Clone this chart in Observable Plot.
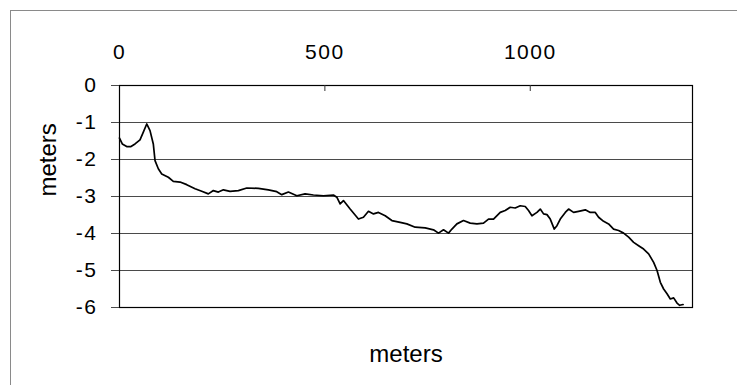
<!DOCTYPE html>
<html>
<head>
<meta charset="utf-8">
<script src="https://cdn.jsdelivr.net/npm/d3@7"></script>
<script src="https://cdn.jsdelivr.net/npm/@observablehq/plot@0.6"></script>
<style>
  html, body { margin: 0; padding: 0; background: white; }
  #wrap { position: relative; width: 737px; height: 385px; overflow: hidden; }
  #border { position: absolute; left: 10px; top: 10px; width: 800px; height: 400px;
            border-left: 1px solid #8a8a8a; border-top: 1px solid #8a8a8a; pointer-events: none; }
  g[aria-label="x-axis tick label"] text,
  g[aria-label="y-axis tick label"] text { letter-spacing: 1.5px; }
</style>
</head>
<body>
<div id="wrap"><div id="border"></div></div>
<script>
// distance along the profile (meters)
const distance = [
  0, 6.8, 17.5, 28, 37.8, 49.9, 58, 66.3, 74.3, 82.3, 86.5, 94.5, 102.8, 118.9, 131, 147.4,
  163.7, 183.9, 200.2, 216.3, 228.5, 240.7, 252.9, 269.2, 289.4, 309.9, 338.1, 362.5, 382.9,
  395.1, 411.2, 431.7, 451.9, 472.1, 496.5, 520.8, 529.1, 537.1, 545.2, 561.5, 581.7, 593.9,
  606.1, 618.3, 630.5, 646.8, 663.1, 683.3, 699.6, 719.9, 744.2, 764.4, 776.6, 788.8, 801,
  809.3, 821.4, 837.5, 853.8, 870.2, 886.2, 898.4, 910.6, 926.9, 939, 951.2, 963.4, 975.6,
  987.8, 995.8, 1004.1, 1016.3, 1024.4, 1032.4, 1040.7, 1048.7, 1058.5, 1065, 1073.1, 1085.3,
  1093.3, 1105.5, 1117.7, 1134, 1146.2, 1158.3, 1166.4, 1178.6, 1190.7, 1202.9, 1215.1,
  1227.3, 1239.5, 1251.7, 1263.8, 1276, 1288.2, 1300.4, 1308.7, 1316.7, 1324.7, 1333, 1341,
  1349.1, 1357.3, 1363.7, 1372
];
// elevation (meters)
const elevation = [
  -1.42, -1.58, -1.65, -1.65, -1.58, -1.47, -1.26, -1.04, -1.22, -1.58, -2.03, -2.25, -2.39, -2.48, -2.59, -2.61,
  -2.68, -2.79, -2.86, -2.93, -2.84, -2.88, -2.82, -2.86, -2.84, -2.77, -2.78, -2.82, -2.87,
  -2.95, -2.88, -2.98, -2.93, -2.96, -2.98, -2.96, -3.02, -3.20, -3.11, -3.34, -3.61, -3.56,
  -3.40, -3.47, -3.43, -3.52, -3.65, -3.70, -3.74, -3.83, -3.85, -3.90, -3.99, -3.90, -3.99,
  -3.88, -3.74, -3.65, -3.72, -3.74, -3.72, -3.61, -3.61, -3.43, -3.38, -3.29, -3.31, -3.25,
  -3.27, -3.38, -3.52, -3.43, -3.34, -3.47, -3.49, -3.61, -3.88, -3.79, -3.61, -3.43,
  -3.34, -3.43, -3.40, -3.36, -3.43, -3.43, -3.56, -3.67, -3.74, -3.88, -3.92,
  -3.99, -4.10, -4.24, -4.33, -4.42, -4.55, -4.78, -5.00, -5.32, -5.50, -5.63, -5.77,
  -5.74, -5.88, -5.94, -5.92
];
const xTicks = [0, 500, 1000];
const yTicks = [0, -1, -2, -3, -4, -5, -6];
const xLabel = "meters";
const yLabel = "meters";

const data = distance.map((d, i) => ({distance: d, elevation: elevation[i]}));

const chart = Plot.plot({
  width: 737,
  height: 385,
  marginLeft: 119,
  marginRight: 45,
  marginTop: 85,
  marginBottom: 78,
  style: {fontFamily: "Liberation Sans, Arial, sans-serif", fontSize: "21px", background: "white", overflow: "visible"},
  x: {domain: [0, 1395]},
  y: {domain: [-6, 0]},
  marks: [
    Plot.gridY(yTicks, {stroke: "#4a4a4a", strokeOpacity: 1, strokeWidth: 1}),
    Plot.frame({stroke: "black", strokeWidth: 1.2}),
    Plot.axisY(yTicks, {tickSize: 8, tickPadding: 14, label: null, tickFormat: d => String(d), stroke: "#4a4a4a", fill: "black", fontSize: 21}),
    Plot.axisX(xTicks, {anchor: "top", tickSize: 0, tickPadding: 27, label: null, tickFormat: d => String(d), fill: "black", fontSize: 21}),
    Plot.tickX(xTicks.filter(d => d > 0), {x: d => d, stroke: "#333", insetBottom: 216}),
    Plot.line(data, {x: "distance", y: "elevation", stroke: "black", strokeWidth: 1.7}),
    Plot.text([xLabel], {frameAnchor: "bottom", lineAnchor: "bottom", dy: 54, text: d => d, fontSize: 24, fill: "black"}),
    Plot.text([yLabel], {frameAnchor: "left", lineAnchor: "bottom", dx: -64, rotate: -90, text: d => d, fontSize: 24, fill: "black"})
  ]
});
document.getElementById("wrap").insertBefore(chart, document.getElementById("border"));
</script>
</body>
</html>
